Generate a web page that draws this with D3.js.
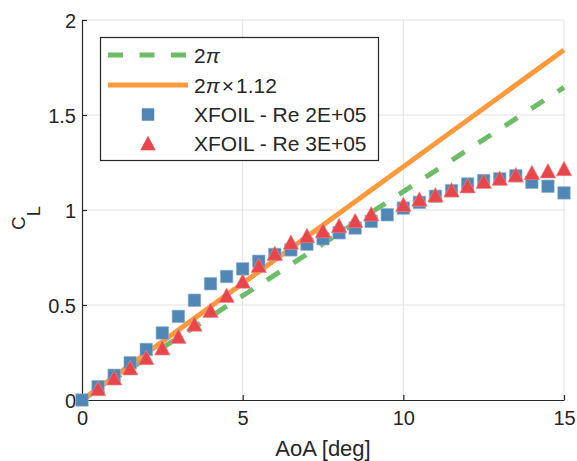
<!DOCTYPE html>
<html>
<head>
<meta charset="utf-8">
<script src="https://cdn.jsdelivr.net/npm/d3@7"></script>
<style>
  html, body { margin: 0; padding: 0; background: #fff; }
  svg { display: block; font-family: "Liberation Sans", Arial, sans-serif; }
</style>
</head>
<body>
<svg id="chart" width="577" height="461"></svg>
<script>
// Lift curve: XFOIL polars against thin-airfoil theory
const aoaRe2 = [0, 0.5, 1, 1.5, 2, 2.5, 3, 3.5, 4, 4.5, 5, 5.5, 6, 6.5, 7, 7.5,
                8, 8.5, 9, 9.5, 10, 10.5, 11, 11.5, 12, 12.5, 13, 13.5, 14, 14.5, 15];
const clRe2 = [0, 0.07, 0.13, 0.196, 0.266, 0.353, 0.44, 0.525, 0.612, 0.65, 0.69, 0.73, 0.766, 0.79, 0.82, 0.849,
               0.88, 0.905, 0.94, 0.975, 1.01, 1.04, 1.072, 1.102, 1.137, 1.155, 1.164, 1.18, 1.146, 1.125, 1.09];

const aoaRe3 = [0.5, 1, 1.5, 2, 2.5, 3, 3.5, 4, 4.5, 5, 5.5, 6, 6.5, 7, 7.5, 8, 8.5, 9,
                10, 10.5, 11, 11.5, 12, 12.5, 13, 13.5, 14, 14.5, 15];
const clRe3 = [0.061, 0.117, 0.17, 0.224, 0.275, 0.336, 0.4, 0.472, 0.551, 0.626, 0.709, 0.773, 0.831, 0.866, 0.892, 0.919, 0.945, 0.98,
               1.03, 1.058, 1.08, 1.106, 1.128, 1.151, 1.168, 1.186, 1.198, 1.207, 1.219];

// theory lines (end points)
const thinAoa = [0, 15];
const thinCl = [0, 1.645];        // 2*pi per radian
const thinClScaled = [0, 1.842];  // 2*pi*1.12 per radian

const xTicks = [0, 5, 10, 15];
const yTicks = [0, 0.5, 1, 1.5, 2];
const yTickLabels = ["0", "0.5", "1", "1.5", "2"];

const colors = { thin: "#6dbd68", scaled: "#ff9a3c", re2: "#5087b5", re3: "#e8464b", axis: "#262626", grid: "#e3e3e3" };

const svg = d3.select("#chart");
const x = d3.scaleLinear().domain([0, 15]).range([82, 564]);
const y = d3.scaleLinear().domain([0, 2]).range([400, 20]);

// grid
const grid = svg.append("g");
grid.selectAll("line.gx").data(xTicks.slice(1)).join("line")
  .attr("x1", d => x(d)).attr("x2", d => x(d)).attr("y1", y(0)).attr("y2", y(2))
  .attr("stroke", colors.grid).attr("stroke-width", 1);
grid.selectAll("line.gy").data(yTicks.slice(1)).join("line")
  .attr("x1", x(0)).attr("x2", x(15)).attr("y1", d => y(d)).attr("y2", d => y(d))
  .attr("stroke", colors.grid).attr("stroke-width", 1);

// axes
const xAxis = svg.append("g").attr("transform", `translate(0,${y(0)})`)
  .call(d3.axisBottom(x).tickValues(xTicks).tickSizeInner(-5).tickSizeOuter(0).tickPadding(11).tickFormat(d3.format("d")));
const yAxis = svg.append("g").attr("transform", `translate(${x(0)},0)`)
  .call(d3.axisLeft(y).tickValues(yTicks).tickSizeInner(-5).tickSizeOuter(0).tickPadding(6)
    .tickFormat((d, i) => yTickLabels[i]));
[xAxis, yAxis].forEach(g => {
  g.select(".domain").attr("stroke", colors.axis).attr("stroke-width", 1.2);
  g.selectAll(".tick line").attr("stroke", colors.axis).attr("stroke-width", 1.2);
  g.selectAll(".tick text").attr("fill", colors.axis).attr("font-size", 20)
    .attr("font-family", "Liberation Sans, Arial, sans-serif");
});
yAxis.selectAll(".tick text").attr("dy", "0.36em");

// axis labels
svg.append("text").attr("x", (x(0) + x(15)) / 2).attr("y", 456)
  .attr("text-anchor", "middle").attr("font-size", 22).attr("fill", colors.axis)
  .text("AoA [deg]");
const yl = svg.append("text").attr("transform", "translate(25,218) rotate(-90)")
  .attr("text-anchor", "middle").attr("font-size", 19).attr("fill", colors.axis);
yl.append("tspan").text("C");
yl.append("tspan").attr("dy", 15).attr("font-size", 18).text("L");

// theory lines
const lineGen = d3.line().x(d => x(d[0])).y(d => y(d[1]));
svg.append("path").datum(d3.zip(thinAoa, thinCl)).attr("d", lineGen)
  .attr("fill", "none").attr("stroke", colors.thin).attr("stroke-width", 5)
  .attr("stroke-dasharray", "15,16.5");
svg.append("path").datum(d3.zip(thinAoa, thinClScaled)).attr("d", lineGen)
  .attr("fill", "none").attr("stroke", colors.scaled).attr("stroke-width", 5);

// XFOIL markers
const sq = d3.symbol().type(d3.symbolSquare).size(156);
const tri = (cx, cy) => {
  const w = 15.5, h = 14.5;
  return `M${cx},${cy - h / 2}L${cx + w / 2},${cy + h / 2}L${cx - w / 2},${cy + h / 2}Z`;
};
svg.append("g").selectAll("path").data(d3.zip(aoaRe2, clRe2)).join("path")
  .attr("d", sq).attr("transform", d => `translate(${x(d[0])},${y(d[1])})`)
  .attr("fill", colors.re2).attr("stroke", "#8fb2d0").attr("stroke-width", 0.6);
svg.append("g").selectAll("path").data(d3.zip(aoaRe3, clRe3)).join("path")
  .attr("d", d => tri(x(d[0]), y(d[1])))
  .attr("fill", colors.re3).attr("stroke", "#f08a8d").attr("stroke-width", 0.6);

// legend
const lg = svg.append("g");
lg.append("rect").attr("x", 100.5).attr("y", 37.5).attr("width", 278).attr("height", 123)
  .attr("fill", "#fff").attr("stroke", colors.axis).attr("stroke-width", 1.2);
const rowY = [55, 85, 114.5, 143];
lg.append("line").attr("x1", 108).attr("x2", 188).attr("y1", rowY[0]).attr("y2", rowY[0])
  .attr("stroke", colors.thin).attr("stroke-width", 5).attr("stroke-dasharray", "15,16.5");
lg.append("line").attr("x1", 108).attr("x2", 188).attr("y1", rowY[1]).attr("y2", rowY[1])
  .attr("stroke", colors.scaled).attr("stroke-width", 5);
lg.append("path").attr("d", sq).attr("transform", `translate(148,${rowY[2]})`).attr("fill", colors.re2);
lg.append("path").attr("d", tri(148, rowY[3])).attr("fill", colors.re3);

const legendText = (i) => lg.append("text").attr("x", 194).attr("y", rowY[i]).attr("dy", "0.36em")
  .attr("font-size", 21).attr("fill", colors.axis);
const t0 = legendText(0);
t0.append("tspan").text("2");
t0.append("tspan").attr("font-style", "italic").text("π");
const t1 = legendText(1);
t1.append("tspan").text("2");
t1.append("tspan").attr("font-style", "italic").text("π");
t1.append("tspan").attr("dx", 2).text("×");
t1.append("tspan").attr("dx", 2).text("1.12");
legendText(2).text("XFOIL - Re 2E+05");
legendText(3).text("XFOIL - Re 3E+05");
</script>
</body>
</html>
